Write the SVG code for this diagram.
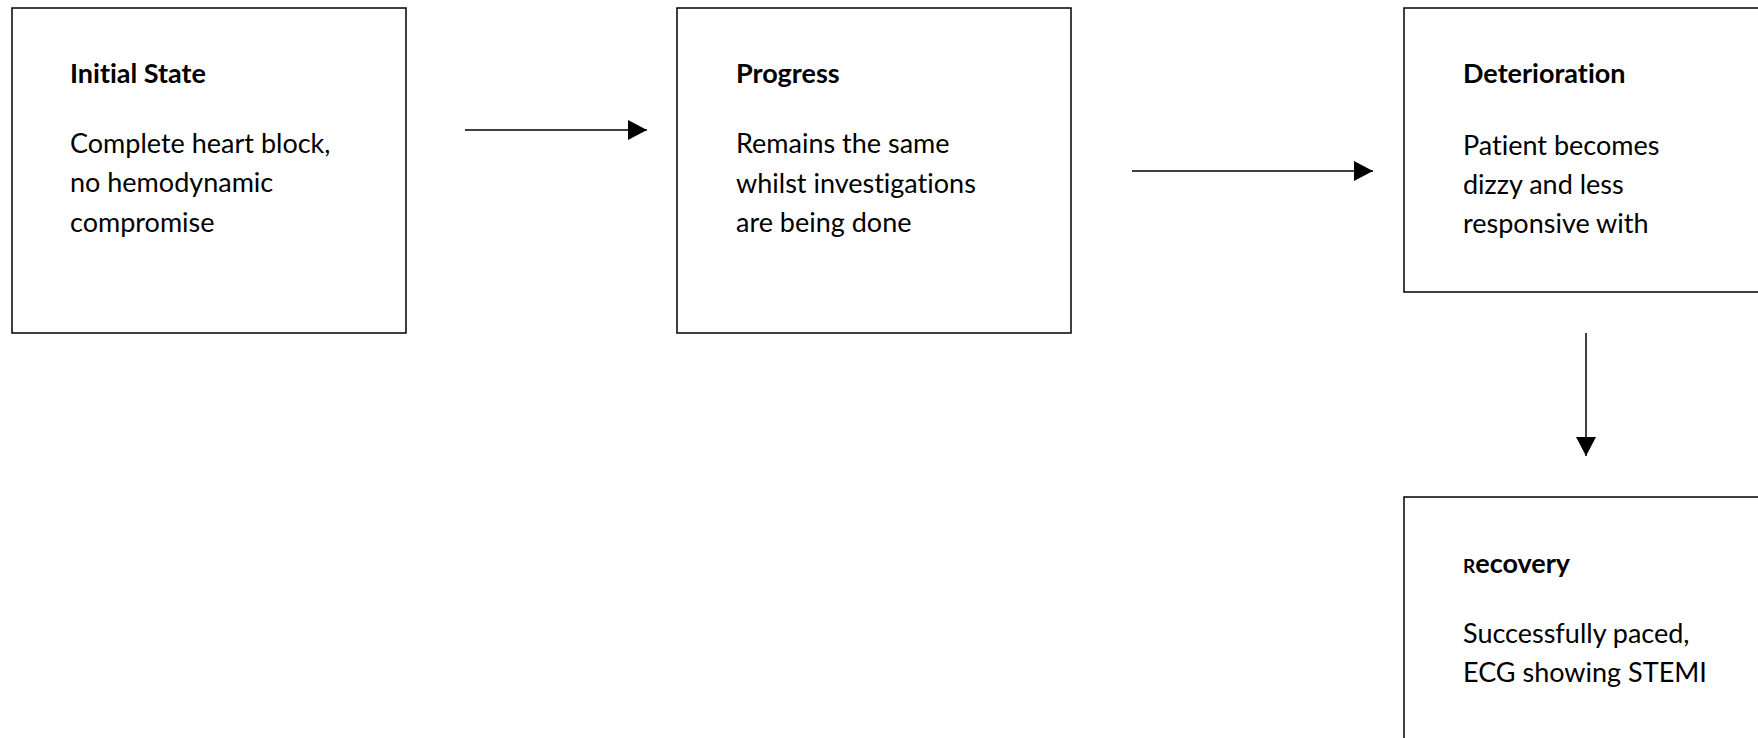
<svg xmlns="http://www.w3.org/2000/svg" width="1758" height="738" viewBox="0 0 1758 738">
<style>
.box{fill:#fff;stroke:#000;stroke-width:1.5}
.h{font-family:Lato,"Open Sans","Liberation Sans",sans-serif;font-weight:bold;font-size:27px;fill:#000;font-variant-ligatures:none}
.b{font-family:Lato,"Open Sans","Liberation Sans",sans-serif;font-size:27px;fill:#000;font-variant-ligatures:none}
.c{stroke:#000;stroke-width:1.5;fill:none}
</style>
<defs>
<marker id="ah" markerWidth="20" markerHeight="20" viewBox="0 0 20 20" refX="19" refY="10" orient="auto" markerUnits="userSpaceOnUse">
<path d="M0,0 L19,10 L0,20 Z" fill="#000"/>
</marker>
</defs>
<rect width="1758" height="738" fill="#fff"/>
<g id="initial">
<rect class="box" x="12" y="8" width="394" height="325"/>
<text class="h" x="70" y="83">Initial State</text>
<text class="b" x="70" y="153">Complete heart block,</text>
<text class="b" x="70" y="192">no hemodynamic</text>
<text class="b" x="70" y="232">compromise</text>
</g>
<g id="progress">
<rect class="box" x="677" y="8" width="394" height="325"/>
<text class="h" x="736" y="83">Progress</text>
<text class="b" x="736" y="153">Remains the same</text>
<text class="b" x="736" y="193">whilst investigations</text>
<text class="b" x="736" y="232">are being done</text>
</g>
<g id="deterioration">
<rect class="box" x="1404" y="8" width="394" height="284"/>
<text class="h" x="1463" y="83">Deterioration</text>
<text class="b" x="1463" y="155">Patient becomes</text>
<text class="b" x="1463" y="194">dizzy and less</text>
<text class="b" x="1463" y="233">responsive with</text>
</g>
<g id="recovery">
<rect class="box" x="1404" y="497" width="394" height="325"/>
<text class="h" x="1463" y="573"><tspan font-size="19px">R</tspan>ecovery</text>
<text class="b" x="1463" y="643">Successfully paced,</text>
<text class="b" x="1463" y="682">ECG showing STEMI</text>
</g>
<g id="connectors">
<line class="c" x1="465" y1="130" x2="647" y2="130" marker-end="url(#ah)"/>
<line class="c" x1="1132" y1="171" x2="1373" y2="171" marker-end="url(#ah)"/>
<line class="c" x1="1586" y1="333" x2="1586" y2="456" marker-end="url(#ah)"/>
</g>
</svg>
